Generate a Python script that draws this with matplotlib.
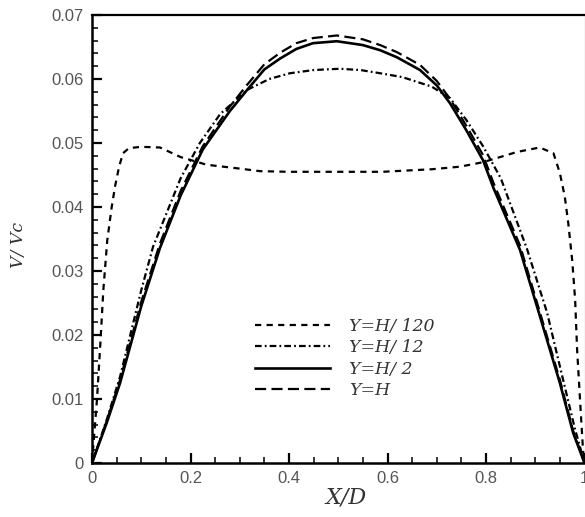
import matplotlib
matplotlib.use("Agg")
import matplotlib.pyplot as plt
from matplotlib.ticker import MultipleLocator, FuncFormatter

# ---- data ----
x_h120 = [0, 0.004, 0.010, 0.017, 0.023, 0.031, 0.040, 0.047, 0.055, 0.063, 0.075,
          0.10, 0.138, 0.18, 0.233, 0.30, 0.341, 0.40, 0.49, 0.59, 0.69, 0.747,
          0.794, 0.863, 0.909, 0.937, 0.95, 0.96, 0.967, 0.975, 0.981, 0.985,
          0.991, 0.997, 1.0]
y_h120 = [0, 0.004, 0.0098, 0.0187, 0.027, 0.0348, 0.040, 0.0433, 0.0463, 0.0484, 0.0492,
          0.0494, 0.0493, 0.0478, 0.0466, 0.0460, 0.0456, 0.0455, 0.0455, 0.0455, 0.0459, 0.0463,
          0.0470, 0.0486, 0.0493, 0.0484, 0.0453, 0.0416, 0.0375, 0.0317, 0.0255, 0.0177,
          0.0098, 0.002, 0.0]

x_h12 = [0, 0.03, 0.057, 0.1, 0.124, 0.18, 0.219, 0.26, 0.315, 0.36, 0.402, 0.45, 0.503,
         0.545, 0.585, 0.63, 0.666, 0.69, 0.727, 0.76, 0.794, 0.83, 0.883, 0.924, 0.955,
         0.98, 1.0]
y_h12 = [0, 0.0068, 0.0135, 0.027, 0.0338, 0.0445, 0.050, 0.0545, 0.0583, 0.0600, 0.0609,
         0.0614, 0.0616, 0.0614, 0.0609, 0.0603, 0.0594, 0.0588, 0.0570, 0.0536, 0.0495,
         0.0445, 0.0335, 0.0235, 0.0135, 0.0055, 0]

x_h2 = [0, 0.03, 0.057, 0.1, 0.138, 0.18, 0.225, 0.28, 0.315, 0.35, 0.382, 0.415, 0.449,
        0.497, 0.55, 0.585, 0.619, 0.666, 0.70, 0.727, 0.76, 0.794, 0.815, 0.869, 0.91,
        0.95, 0.977, 1.0]
y_h2 = [0, 0.0063, 0.0125, 0.0245, 0.0336, 0.0418, 0.049, 0.055, 0.0583, 0.0615, 0.0632,
        0.0647, 0.0656, 0.0659, 0.0653, 0.0645, 0.0634, 0.0614, 0.0590, 0.0562, 0.0520,
        0.0473, 0.043, 0.0333, 0.0228, 0.0125, 0.0047, 0]

x_h = [0, 0.03, 0.057, 0.1, 0.138, 0.18, 0.225, 0.28, 0.315, 0.35, 0.382, 0.415, 0.449,
       0.497, 0.55, 0.585, 0.619, 0.666, 0.70, 0.727, 0.76, 0.794, 0.815, 0.869, 0.91,
       0.95, 0.977, 1.0]
y_h = [0, 0.0066, 0.013, 0.0252, 0.0343, 0.0425, 0.0495, 0.0557, 0.0591, 0.0623, 0.0641,
       0.0656, 0.0664, 0.0668, 0.0662, 0.0653, 0.0642, 0.0622, 0.0597, 0.0569, 0.0527,
       0.0481, 0.0438, 0.034, 0.0234, 0.013, 0.005, 0]

labels = ["Y=H/ 120", "Y=H/ 12", "Y=H/ 2", "Y=H"]
xticks = [0, 0.2, 0.4, 0.6, 0.8, 1.0]
yticks = [0, 0.01, 0.02, 0.03, 0.04, 0.05, 0.06, 0.07]

# ---- figure ----
fig = plt.figure(figsize=(5.85, 5.17), dpi=100)
ax = fig.add_axes([92 / 585, 1 - 463 / 517, (584.5 - 92) / 585, (463 - 15) / 517])

lw = 1.6
ax.plot(x_h120, y_h120, color="black", lw=lw, dashes=(2.8, 2.4), label=labels[0])
ax.plot(x_h12, y_h12, color="black", lw=lw, dashes=(3.0, 1.4, 0.8, 1.4), label=labels[1])
ax.plot(x_h2, y_h2, color="black", lw=lw + 0.3, label=labels[2])
ax.plot(x_h, y_h, color="black", lw=lw, dashes=(5.0, 2.4), label=labels[3])

ax.set_xlim(0, 1)
ax.set_ylim(0, 0.07)
ax.set_xticks(xticks)
ax.set_yticks(yticks)
ax.xaxis.set_minor_locator(MultipleLocator(0.05))
ax.yaxis.set_minor_locator(MultipleLocator(0.002))


def fmt(v, pos):
    if abs(v) < 1e-12:
        return "0"
    if abs(v - round(v)) < 1e-9:
        return str(int(round(v)))
    return ("%.2f" % v).rstrip("0")


ax.xaxis.set_major_formatter(FuncFormatter(fmt))
ax.yaxis.set_major_formatter(FuncFormatter(fmt))

ax.tick_params(which="major", direction="in", length=7, width=1.6,
               top=False, right=False, labelsize=12, labelcolor="#555555", pad=6)
ax.tick_params(which="minor", direction="in", length=4, width=1.1,
               top=False, right=False)
for lab in ax.get_xticklabels() + ax.get_yticklabels():
    lab.set_family(["Liberation Sans", "DejaVu Sans"])

ax.spines["left"].set_linewidth(1.8)
ax.spines["bottom"].set_linewidth(1.8)
ax.spines["top"].set_linewidth(1.6)
ax.spines["right"].set_linewidth(0.8)
ax.spines["right"].set_color("#666666")

ax.set_xlabel("X/D", fontsize=16, style="italic", family="DejaVu Serif", color="#333333")
ax.xaxis.set_label_coords((346 - 92) / 492.5, -(487 - 463) / 448)
ax.set_ylabel("V/ Vc", fontsize=12.5, style="italic", family="DejaVu Serif", color="#333333")
ax.yaxis.set_label_coords(-(92 - 27) / 492.5, (463 - 245) / 448)

leg = ax.legend(loc="upper left", bbox_to_anchor=(255 / 585, 1 - 318 / 517),
                bbox_transform=fig.transFigure, frameon=False,
                prop={"family": "DejaVu Serif", "style": "italic", "size": 12.5},
                handlelength=4.3, handletextpad=1.1, labelspacing=0.25,
                borderpad=0, borderaxespad=0)
for t in leg.get_texts():
    t.set_color("#333333")

fig.savefig("out.png", dpi=100)
